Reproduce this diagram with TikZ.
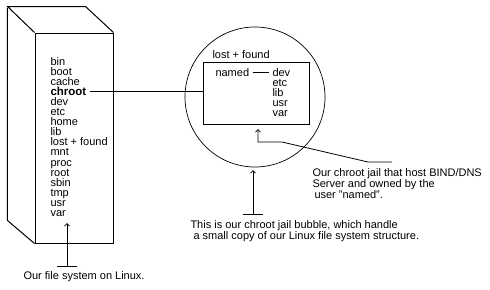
\documentclass[tikz,border=0pt]{standalone}
\usepackage{fontspec}
\setmainfont{Liberation Sans}
\usetikzlibrary{arrows.meta}

\tikzset{
  dirname/.style={font=\fontsize{11bp}{10bp}\selectfont, inner sep=3bp, anchor=base west},
  note/.style={font=\fontsize{11bp}{11bp}\selectfont, align=left, inner sep=0pt, anchor=north west},
  pointer/.style={line width=0.8bp, -{Straight Barb[length=2.5bp,width=5bp]}},
  tbar/.style={line width=0.8bp, {Bar[width=20bp]}-{Straight Barb[length=2.5bp,width=5bp]}},
}

\begin{document}
\begin{tikzpicture}[x=1bp, y=-1bp, line width=1bp]
  \useasboundingbox (0,0) rectangle (490,289);

  % Linux file system box
  \node[draw, minimum width=78bp, minimum height=210bp, inner sep=0pt] (fsbox) at (74,138) {};
  \draw (fsbox.north west) -- ++(-27,-26) -- ++(78,0) -- (fsbox.north east);
  \draw (fsbox.south west) -- ++(-27,-23) -- ++(0,-213);

  \foreach \name [count=\i] in {bin,boot,cache,chroot,dev,etc,home,lib,lost + found,mnt,proc,root,sbin,tmp,usr,var} {
    \node[dirname] (dir\i) at (47,{65.5+(\i-1)*10.05}) {\ifnum\i=4 \fontsize{11.5bp}{10bp}\bfseries\fi\name};
  }

  % chroot bubble
  \node[draw, circle, minimum size=140bp, inner sep=0pt, line width=0.7bp] (bubble) at (255,97) {};
  \node[draw, minimum width=106bp, minimum height=62bp, inner sep=0pt] (jail) at (256,93) {};
  \node[dirname, inner sep=0pt] (lostfound) at (212,58) {lost + found};
  \node[dirname] (named) at (212,76) {named};
  \foreach \name [count=\i] in {dev,etc,lib,usr,var} {
    \node[dirname] (sub\i) at (269,{76+(\i-1)*10.2}) {\name};
  }
  \draw[line width=0.8bp] (named.east) -- (sub1.west);
  \draw[line width=0.8bp] (dir4.east) -- (dir4.east -| jail.west);

  % notes
  \node[note] (linuxnote) at (23,271) {Our file system on Linux.};
  \coordinate (linuxbar) at (67,267);
  \coordinate (linuxtip) at (67,223);
  \draw[tbar] (linuxbar) -- (linuxtip);

  \node[note] (bubblenote) at (190,220) {This is our chroot jail bubble, which handle\\\hspace*{3bp}a small copy of our Linux file system structure.};
  \coordinate (bubblebar) at (253,215);
  \coordinate (bubbletip) at (253,170);
  \draw[tbar] (bubblebar) -- (bubbletip);

  \node[note] (jailnote) at (312,168) {Our chroot jail that host BIND/DNS\\Server and owned by the\\\hspace*{2bp}user "named".};
  \coordinate (jailfoot) at (392,162);
  \coordinate (jailkink) at (282,142);
  \coordinate (jailtip) at (258,129);
  \draw[pointer] (jailfoot) -- ++(-24,0) -- (jailkink) -| (jailtip);
\end{tikzpicture}
\end{document}
